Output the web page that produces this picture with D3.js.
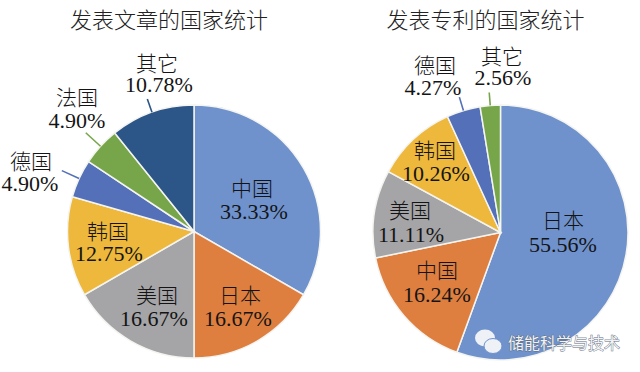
<!DOCTYPE html>
<html>
<head>
<meta charset="utf-8">
<script src="https://cdn.jsdelivr.net/npm/d3@7"></script>
<style>
  html, body { margin: 0; padding: 0; background: #fff; }
  text { font-family: "Liberation Serif", "Noto Sans CJK SC", serif; fill: #141414; text-anchor: middle; }
  .name { font-family: "Noto Sans CJK SC", sans-serif; font-weight: 300; font-size: 21px; }
  .pct { font-size: 22px; }
  .title { font-family: "Noto Sans CJK SC", sans-serif; font-weight: 300; font-size: 22px; fill: #222; }
</style>
</head>
<body>
<svg id="chart" width="640" height="372" style="display:block"></svg>
<script>
// values, clockwise from 12 o'clock
let paperCats = ['中国', '日本', '美国', '韩国', '德国', '法国', '其它']
let paperValues = [33.33, 16.67, 16.67, 12.75, 4.90, 4.90, 10.78]

let patentCats = ['日本', '中国', '美国', '韩国', '德国', '其它']
let patentValues = [55.56, 16.24, 11.11, 10.26, 4.27, 2.56]

let colorByCat = {
  '中国': '#6f92cd',
  '日本': '#df7f3f',
  '美国': '#a5a5a7',
  '韩国': '#edb83b',
  '德国': '#5470b8',
  '法国': '#77a64a',
  '其它': '#2d5688'
}
// the right pie uses the office palette by order, not by country
let patentColors = ['#6f92cd', '#df7f3f', '#a5a5a7', '#edb83b', '#5470b8', '#77a64a']

// label spots: [name x, name y, percent x, percent y]
let paperLabels = [
  [252, 196, 254, 219], [240, 303, 238, 326], [157, 303, 154, 326],
  [108, 239, 109, 261], [31, 169, 30, 191], [77, 105, 77, 128], [157, 71, 159, 92]
]
let patentLabels = [
  [563, 228, 563, 252], [437, 278, 437, 302], [410, 218, 411, 242],
  [435, 158, 436, 181], [435, 73, 433, 95], [502, 64, 503, 85]
]

let svg = d3.select('#chart')

function drawPie(opts) {
  let g = svg.append('g')
    .attr('transform', 'translate(' + opts.cx + ',' + opts.cy + ')')

  let pie = d3.pie().sort(null).value(d => d)
  let arc = d3.arc().innerRadius(0).outerRadius(opts.r)
  let slices = pie(opts.values)

  g.selectAll('.slice')
    .data(slices)
    .enter()
    .append('path')
    .attr('class', 'slice')
    .attr('d', arc)
    .attr('fill', (d, i) => opts.colors[i])
    .attr('stroke', '#f4f4f0')
    .attr('stroke-width', 1.5)

  // leader lines, only on the thin outer slices
  let leaders = slices
    .map((d, i) => ({ d: d, i: i }))
    .filter(s => opts.leaders.includes(opts.cats[s.i]))

  g.selectAll('.leader')
    .data(leaders)
    .enter()
    .append('line')
    .attr('class', 'leader')
    .attr('x1', s => d3.pointRadial((s.d.startAngle + s.d.endAngle) / 2, opts.r)[0])
    .attr('y1', s => d3.pointRadial((s.d.startAngle + s.d.endAngle) / 2, opts.r)[1])
    .attr('x2', s => d3.pointRadial((s.d.startAngle + s.d.endAngle) / 2, opts.r + opts.leaderLen[opts.cats[s.i]])[0])
    .attr('y2', s => d3.pointRadial((s.d.startAngle + s.d.endAngle) / 2, opts.r + opts.leaderLen[opts.cats[s.i]])[1])
    .attr('stroke', s => opts.colors[s.i])
    .attr('stroke-width', 1.6)

  // name and percent sit in one text element, two lines
  let labels = svg.selectAll('.label' + opts.id)
    .data(opts.cats)
    .enter()
    .append('text')
    .attr('class', 'label' + opts.id)

  labels.append('tspan')
    .attr('class', 'name')
    .attr('x', (d, i) => opts.labels[i][0])
    .attr('y', (d, i) => opts.labels[i][1])
    .text(d => d)

  labels.append('tspan')
    .attr('class', 'pct')
    .attr('x', (d, i) => opts.labels[i][2])
    .attr('y', (d, i) => opts.labels[i][3])
    .text((d, i) => opts.values[i].toFixed(2) + '%')

  svg.append('text')
    .attr('class', 'title')
    .attr('x', opts.titleX)
    .attr('y', 28)
    .text(opts.title)
}

drawPie({
  id: 'a',
  title: '发表文章的国家统计',
  titleX: 169,
  cx: 194, cy: 231.5, r: 126.5,
  cats: paperCats,
  values: paperValues,
  colors: paperCats.map(c => colorByCat[c]),
  labels: paperLabels,
  leaders: ['德国', '法国', '其它'],
  leaderLen: { '德国': 19, '法国': 20, '其它': 14 }
})

drawPie({
  id: 'b',
  title: '发表专利的国家统计',
  titleX: 485.5,
  cx: 500.5, cy: 232.5, r: 127.5,
  cats: patentCats,
  values: patentValues,
  colors: patentColors,
  labels: patentLabels,
  leaders: ['德国', '其它'],
  leaderLen: { '德国': 14, '其它': 13 }
})

// watermark in the corner
let mark = svg.append('g')
mark.append('ellipse').attr('cx', 485).attr('cy', 338).attr('rx', 10).attr('ry', 8.5).attr('fill', '#eef1f6')
mark.append('ellipse').attr('cx', 493).attr('cy', 346).attr('rx', 9).attr('ry', 7.5)
  .attr('fill', '#eef1f6').attr('stroke', '#6f92cd').attr('stroke-width', 1)
mark.append('text')
  .attr('x', 564).attr('y', 349)
  .style('font-family', '"Noto Sans CJK SC", sans-serif')
  .style('font-size', '16px')
  .style('fill', '#f2f2f2')
  .style('paint-order', 'stroke')
  .style('stroke', '#5a6a80')
  .style('stroke-width', '0.8px')
  .text('储能科学与技术')
</script>
</body>
</html>
